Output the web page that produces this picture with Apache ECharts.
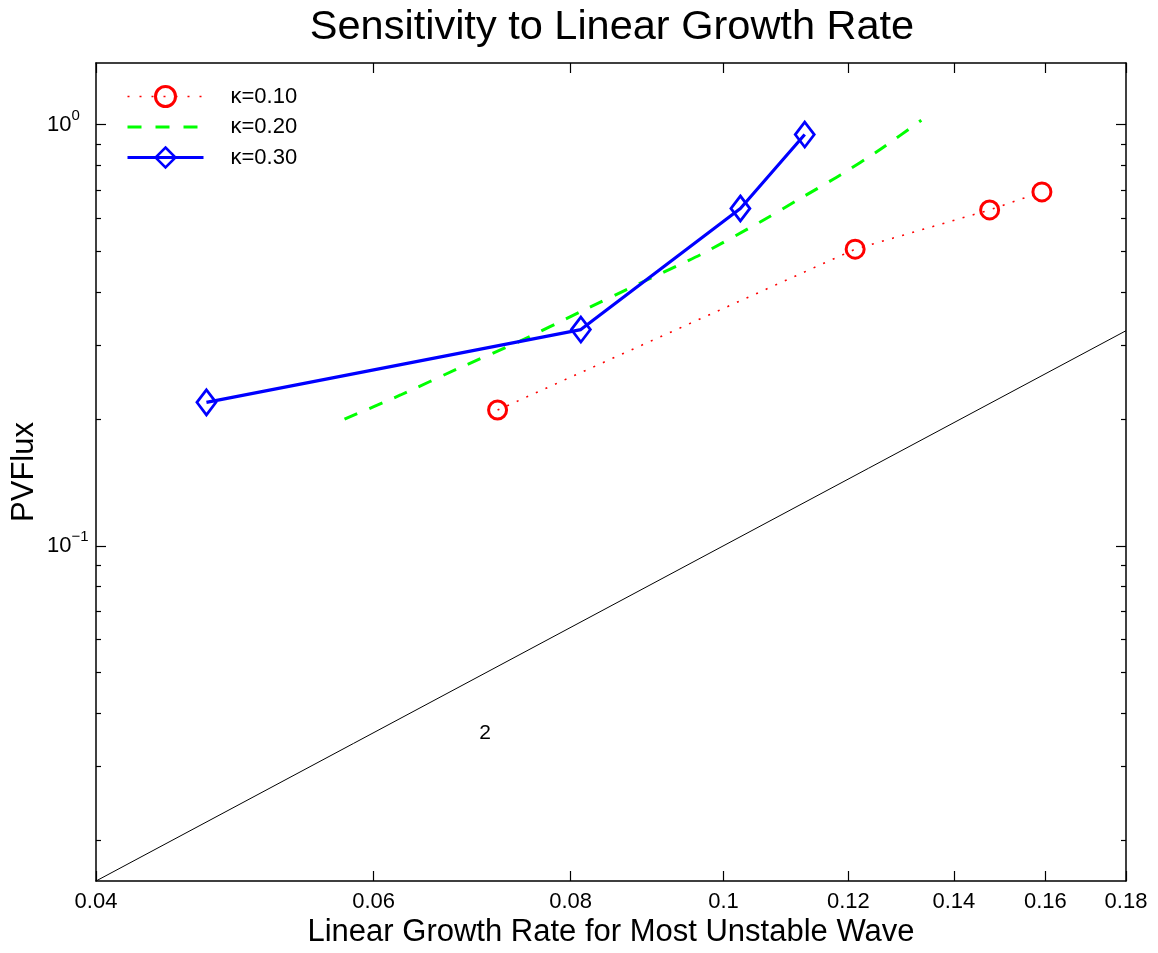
<!DOCTYPE html>
<html><head><meta charset="utf-8">
<script src="https://cdn.jsdelivr.net/npm/echarts@6/dist/echarts.min.js"></script>
<style>html,body{margin:0;padding:0;background:#fff}#c{width:1158px;height:953px}</style>
</head><body><div id="c"></div>
<script>
const FONT = '"Liberation Sans", Arial, Helvetica, sans-serif';

// ---- axes / ticks ----
const xRange = [0.04, 0.18];
const yRange = [0.016, 1.4];
const xTicks = [0.04, 0.06, 0.08, 0.1, 0.12, 0.14, 0.16, 0.18];
const xTickLabels = ['0.04', '0.06', '0.08', '0.1', '0.12', '0.14', '0.16', '0.18'];
const yMajorTicks = [0.1, 1];
const yMajorExp = ['\u22121', '0'];
const yMinorTicks = [0.02, 0.03, 0.04, 0.05, 0.06, 0.07, 0.08, 0.09, 0.2, 0.3, 0.4, 0.5, 0.6, 0.7, 0.8, 0.9];

// ---- series ----
const seriesNames = ['\u03ba=0.10', '\u03ba=0.20', '\u03ba=0.30'];
const k10X = [0.0719, 0.1212, 0.1475, 0.1592];
const k10Y = [0.210, 0.506, 0.627, 0.692];
const k20X = [0.0575, 0.0624, 0.0681, 0.0743, 0.0811, 0.0885, 0.0967, 0.1055, 0.1119, 0.1186, 0.1257, 0.1335];
const k20Y = [0.1998, 0.228, 0.265, 0.306, 0.359, 0.420, 0.491, 0.587, 0.668, 0.759, 0.872, 1.024];
const k30X = [0.0470, 0.0812, 0.1025, 0.1126];
const k30Y = [0.219, 0.326, 0.632, 0.947];
const refX = [0.04, 0.18];
const refY = [0.016, 0.324];
const slopeLabelX = [0.0706];
const slopeLabelY = [0.0359];
const slopeLabelText = ['2'];

const L = Math.log10;
const pts = (xs, ys) => xs.map((x, i) => [L(x), L(ys[i])]);

const axisLineStyle = { color: '#000', width: 1.5 };
const tickStyle = { color: '#000', width: 1.2 };

const chart = echarts.init(document.getElementById('c'), null, { renderer: 'canvas' });

const xBase = {
  type: 'value', min: L(xRange[0]), max: L(xRange[1]),
  splitLine: { show: false }
};
const yBase = {
  type: 'value', min: L(yRange[0]), max: L(yRange[1]),
  splitLine: { show: false }
};
const line = { show: true, onZero: false, lineStyle: axisLineStyle };
const noLine = { show: false, onZero: false };

const option = {
  animation: false,
  backgroundColor: '#fff',
  grid: { left: 96, right: 32, top: 63, bottom: 72, containLabel: false },
  xAxis: [
    Object.assign({}, xBase, {
      position: 'bottom',
      axisLine: line,
      axisTick: { show: true, inside: true, length: 10, lineStyle: tickStyle, customValues: xTicks.map(L) },
      axisLabel: {
        show: true, margin: 10, fontSize: 22, fontFamily: FONT, color: '#000',
        customValues: xTicks.map(L),
        formatter: v => {
          let best = 0, d = Infinity;
          xTicks.forEach((t, i) => { const dd = Math.abs(L(t) - v); if (dd < d) { d = dd; best = i; } });
          return xTickLabels[best];
        }
      }
    }),
    Object.assign({}, xBase, {
      position: 'top',
      axisLine: line,
      axisTick: { show: true, inside: true, length: 10, lineStyle: tickStyle, customValues: xTicks.map(L) },
      axisLabel: { show: false }
    })
  ],
  yAxis: [
    Object.assign({}, yBase, {
      position: 'left',
      axisLine: line,
      axisTick: { show: true, inside: true, length: 10, lineStyle: tickStyle, customValues: yMajorTicks.map(L) },
      axisLabel: {
        show: true, margin: 49, align: 'left', customValues: yMajorTicks.map(L),
        formatter: v => {
          let best = 0, d = Infinity;
          yMajorTicks.forEach((t, i) => { const dd = Math.abs(L(t) - v); if (dd < d) { d = dd; best = i; } });
          return '{b|10}{s|' + yMajorExp[best] + '}';
        },
        rich: {
          b: { fontSize: 22, fontFamily: FONT, color: '#000', lineHeight: 22, verticalAlign: 'bottom' },
          s: { fontSize: 15, fontFamily: FONT, color: '#000', lineHeight: 15, padding: [0, 0, 12, 0], verticalAlign: 'bottom' }
        }
      }
    }),
    Object.assign({}, yBase, {
      position: 'left',
      axisLine: noLine,
      axisTick: { show: true, inside: true, length: 5, lineStyle: tickStyle, customValues: yMinorTicks.map(L) },
      axisLabel: { show: false }
    }),
    Object.assign({}, yBase, {
      position: 'right',
      axisLine: line,
      axisTick: { show: true, inside: true, length: 10, lineStyle: tickStyle, customValues: yMajorTicks.map(L) },
      axisLabel: { show: false }
    }),
    Object.assign({}, yBase, {
      position: 'right',
      axisLine: noLine,
      axisTick: { show: true, inside: true, length: 5, lineStyle: tickStyle, customValues: yMinorTicks.map(L) },
      axisLabel: { show: false }
    })
  ],
  legend: {
    data: [
      { name: seriesNames[0], itemStyle: { color: 'rgba(255,255,255,0)', borderColor: '#ff0000', borderWidth: 3 }, lineStyle: { color: '#ff0000', width: 1.5, type: [2, 10] } },
      { name: seriesNames[1], itemStyle: { opacity: 0 }, lineStyle: { color: '#00ff00', width: 3, type: [14, 14] } },
      { name: seriesNames[2], itemStyle: { color: 'rgba(255,255,255,0)', borderColor: '#0000ff', borderWidth: 2.5 }, lineStyle: { color: '#0000ff', width: 3, type: 'solid' } }
    ],
    orient: 'vertical',
    left: 121, top: 79,
    itemWidth: 76, itemHeight: 25, itemGap: 5.5,
    textStyle: { fontSize: 22, fontFamily: FONT, color: '#000', padding: [0, 0, 0, 22], lineHeight: 25 },
    selectedMode: false
  },
  series: [
    {
      name: 'ref', type: 'line', xAxisIndex: 0, yAxisIndex: 0,
      data: pts(refX, refY), symbol: 'none', silent: true,
      lineStyle: { color: '#000', width: 1 }, z: 1
    },
    {
      name: seriesNames[0], type: 'line', xAxisIndex: 0, yAxisIndex: 0,
      data: pts(k10X, k10Y), color: '#ff0000',
      symbol: 'circle', symbolSize: 18,
      itemStyle: { color: 'rgba(255,255,255,0)', borderColor: '#ff0000', borderWidth: 3 },
      lineStyle: { color: '#ff0000', width: 1.6, type: [2, 8.5] }, z: 3
    },
    {
      name: seriesNames[1], type: 'line', xAxisIndex: 0, yAxisIndex: 0,
      data: pts(k20X, k20Y), color: '#00ff00',
      symbol: 'circle', showSymbol: false, smooth: 0.2,
      itemStyle: { color: 'rgba(0,0,0,0)', borderWidth: 0 },
      lineStyle: { color: '#00ff00', width: 3, type: [14, 13] }, z: 2
    },
    {
      name: seriesNames[2], type: 'line', xAxisIndex: 0, yAxisIndex: 0,
      data: pts(k30X, k30Y), color: '#0000ff',
      symbol: 'diamond', symbolSize: [19, 25],
      itemStyle: { color: 'rgba(255,255,255,0)', borderColor: '#0000ff', borderWidth: 2.8 },
      lineStyle: { color: '#0000ff', width: 3.2, type: 'solid' }, z: 4
    },
    {
      name: 'slope', type: 'scatter', xAxisIndex: 0, yAxisIndex: 0,
      data: pts(slopeLabelX, slopeLabelY), symbolSize: 1, silent: true,
      itemStyle: { color: 'rgba(0,0,0,0)', opacity: 1 },
      label: {
        show: true, position: 'inside', fontSize: 21, fontFamily: FONT, color: '#000', opacity: 1,
        textBorderWidth: 0,
        formatter: p => slopeLabelText[p.dataIndex]
      }
    }
  ],
  graphic: [
    { type: 'text', x: 612, y: 28, style: { text: 'Sensitivity to Linear Growth Rate', fontSize: 41.5, fontFamily: FONT, fill: '#000', textAlign: 'center', textVerticalAlign: 'middle' } },
    { type: 'text', x: 611, y: 932, style: { text: 'Linear Growth Rate for Most Unstable Wave', fontSize: 31, fontFamily: FONT, fill: '#000', textAlign: 'center', textVerticalAlign: 'middle' } },
    { type: 'text', x: 24, y: 472, rotation: Math.PI / 2, style: { text: 'PVFlux', fontSize: 31, fontFamily: FONT, fill: '#000', textAlign: 'center', textVerticalAlign: 'middle' } }
  ]
};
chart.setOption(option);
</script>
</body></html>
